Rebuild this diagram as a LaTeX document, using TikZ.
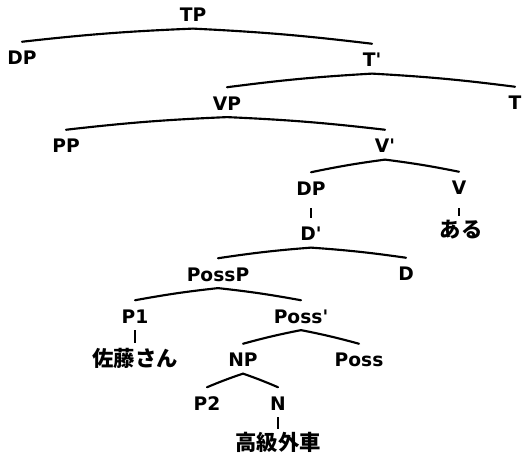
\documentclass[tikz,border=0pt]{standalone}
\usepackage{fontspec}
\newfontfamily\latf{DejaVu Sans Bold}
\newfontfamily\jpf{Noto Sans CJK JP}
\tikzset{
  lab/.style={font=\fontsize{14pt}{16pt}\latf, anchor=base, inner xsep=0pt, inner ysep=4.9pt, text height=12.2pt, text depth=0pt},
  jp/.style={font=\fontsize{16pt}{18pt}\jpf\bfseries, anchor=center, inner xsep=0pt, inner ysep=4pt, text height=12.5pt, text depth=0.7pt},
  br/.style={line width=1.6pt, line cap=round},
  un/.style={line width=1.3pt},
  bl/.style={br, bend right=2},
  brr/.style={br, bend left=2},
}
\begin{document}
\begin{tikzpicture}[x=0.75pt, y=-0.75pt]
\useasboundingbox (0,0) rectangle (523,455);
\node[lab] (TP)    at (193,21.8) {TP};
\node[lab] (DPa)   at (22,64.8)  {DP};
\node[lab] (Tbar)  at (372,66.8) {T'};
\node[lab] (VP)    at (227,110.3){VP};
\node[lab] (T)     at (515,109.8){T};
\node[lab] (PP)    at (66,152.8) {PP};
\node[lab] (Vbar)  at (385,152.8){V'};
\node[lab] (DPb)   at (311,195.3){DP};
\node[lab] (V)     at (459,194.8){V};
\node[jp]  (aru)   at (461,230)  {ある};
\node[lab] (Dbar)  at (311,240.8){D'};
\node[lab] (PossP) at (218,281.3){PossP};
\node[lab] (D)     at (406,280.8){D};
\node[lab] (P1)    at (135,323.3){P1};
\node[lab] (Possbar) at (301,323.3){Poss'};
\node[jp]  (sato)  at (135,359)  {佐藤さん};
\node[lab] (NP)    at (243,366.8){NP};
\node[lab] (Poss)  at (359,366.8){Poss};
\node[lab] (P2)    at (207,410.3){P2};
\node[lab] (N)     at (278,410.3){N};
\node[jp]  (kokyu) at (278,443)  {高級外車};
% branches
\draw[bl]  (TP.south) to (DPa.north);
\draw[brr] (TP.south) to (Tbar.north);
\draw[bl]  (Tbar.south) to (VP.north);
\draw[brr] (Tbar.south) to (T.north);
\draw[bl]  (VP.south) to (PP.north);
\draw[brr] (VP.south) to (Vbar.north);
\draw[bl]  (Vbar.south) to (DPb.north);
\draw[brr] (Vbar.south) to (V.north);
\draw[bl]  (Dbar.south) to (PossP.north);
\draw[brr] (Dbar.south) to (D.north);
\draw[bl]  (PossP.south) to (P1.north);
\draw[brr] (PossP.south) to (Possbar.north);
\draw[bl]  (Possbar.south) to (NP.north);
\draw[brr] (Possbar.south) to (Poss.north);
\draw[bl]  (NP.south) to (P2.north);
\draw[brr] (NP.south) to (N.north);
% unary
\draw[un, shorten <=4.5pt] (DPb.south) -- (Dbar.north);
\draw[un, shorten <=5pt] (V.south) -- (V.south |- aru.north);
\draw[un, shorten >=1.5pt] (P1.south) -- (P1.south |- sato.north);
\draw[un] (N.south) -- (N.south |- kokyu.north);
\end{tikzpicture}
\end{document}
